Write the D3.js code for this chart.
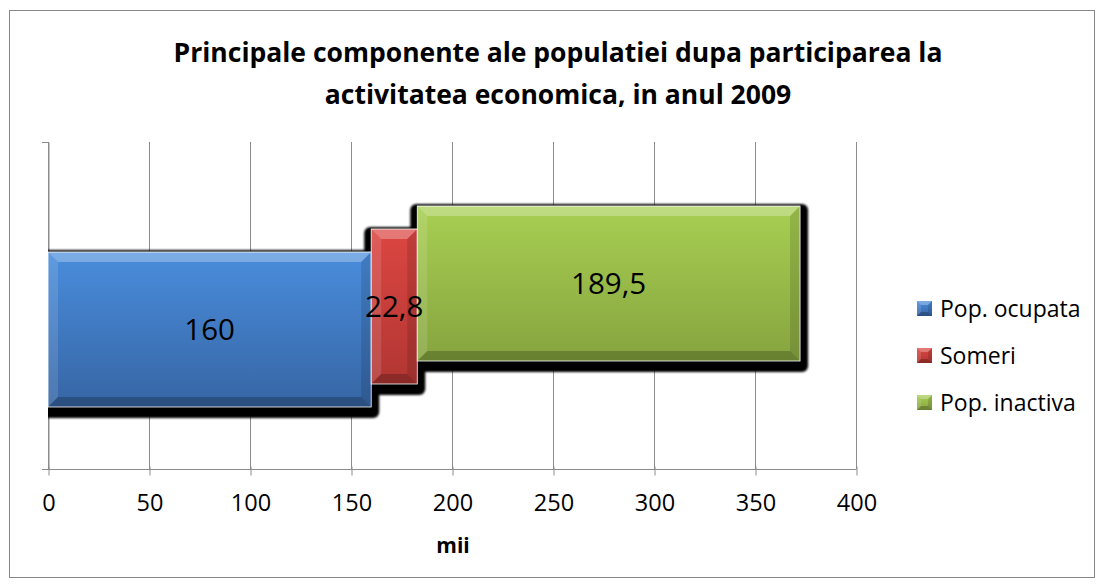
<!DOCTYPE html>
<html>
<head>
<meta charset="utf-8">
<script src="https://cdn.jsdelivr.net/npm/d3@7"></script>
<style>
  body { margin: 0; background: #fff; }
  text { font-family: "Open Sans", sans-serif; fill: #000; }
</style>
</head>
<body>
<div id="chart"></div>
<script>
// data
const categories = ['2009']
const series = ['Pop. ocupata', 'Someri', 'Pop. inactiva']
const values = [160, 22.8, 189.5]
const valueLabels = ['160', '22,8', '189,5']
const xTicks = [0, 50, 100, 150, 200, 250, 300, 350, 400]
const titleLines = ['Principale componente ale populatiei dupa participarea la',
    'activitatea economica, in anul 2009']
const xTitle = 'mii'

const colors = {
    'Pop. ocupata': ['#4a8ddc', '#3665a4'],
    'Someri': ['#dc4642', '#b13633'],
    'Pop. inactiva': ['#a8cf52', '#86a43f']
}

let svgWidth = 1100
let svgHeight = 588
let padding = { left: 48, right: 244, top: 142, bottom: 119 }

let svg = d3.select('#chart').append('svg')
    .attr('width', svgWidth)
    .attr('height', svgHeight)

let defs = svg.append('defs')
series.forEach((s, i) => {
    let g = defs.append('linearGradient')
        .attr('id', 'grad' + i)
        .attr('x1', 0).attr('y1', 0).attr('x2', 0).attr('y2', 1)
    g.append('stop').attr('offset', '0%').attr('stop-color', colors[s][0])
    g.append('stop').attr('offset', '100%').attr('stop-color', colors[s][1])
})
defs.append('filter').attr('id', 'blur')
    .append('feGaussianBlur').attr('stdDeviation', 1)
defs.append('clipPath').attr('id', 'plotclip')
    .append('rect')
    .attr('x', padding.left).attr('y', 0)
    .attr('width', svgWidth - padding.left - padding.right + 20)
    .attr('height', svgHeight)

// outer frame
svg.append('rect')
    .attr('x', 9.5).attr('y', 10.5)
    .attr('width', 1085).attr('height', 567)
    .attr('fill', 'none')
    .attr('stroke', '#868686')

let x = d3.scaleLinear()
    .domain([0, 400])
    .range([padding.left, svgWidth - padding.right])
let y = d3.scaleBand()
    .domain(categories)
    .range([padding.top, svgHeight - padding.bottom])
let offset = d3.scalePoint()
    .domain(series)
    .range([24, -22])
let barH = 155

// gridlines
svg.append('g')
    .selectAll('line')
    .data(xTicks)
    .enter()
    .append('line')
    .attr('x1', d => Math.round(x(d)) + 0.5)
    .attr('x2', d => Math.round(x(d)) + 0.5)
    .attr('y1', padding.top)
    .attr('y2', svgHeight - padding.bottom)
    .attr('stroke', '#8c8c8c')
    .attr('stroke-width', 1)

// y axis ticks (category axis)
let yAxis = d3.axisLeft(y).tickSize(0).tickFormat('')
svg.append('g')
    .attr('transform', `translate(${padding.left + 0.5}, 0)`)
    .call(yAxis)
    .call(g => g.select('.domain').attr('stroke', '#8c8c8c'))
svg.append('g')
    .selectAll('line')
    .data([padding.top, svgHeight - padding.bottom])
    .enter()
    .append('line')
    .attr('x1', padding.left - 6).attr('x2', padding.left)
    .attr('y1', d => d + 0.5).attr('y2', d => d + 0.5)
    .attr('stroke', '#8c8c8c')

// x axis
let axis_x = d3.axisBottom(x)
    .tickValues(xTicks)
    .tickSize(6)
    .tickSizeOuter(0)
    .tickPadding(19)
    .tickFormat(d => d)
let gx = svg.append('g')
    .attr('transform', `translate(0.5, ${svgHeight - padding.bottom + 0.5})`)
    .call(axis_x)
gx.select('.domain').attr('stroke', '#8c8c8c').attr('d', `M${padding.left - 6.5},0H${svgWidth - padding.right}`)
gx.selectAll('.tick line').attr('stroke', '#8c8c8c').attr('y1', -3)
gx.selectAll('.tick text')
    .attr('font-family', '"Open Sans", sans-serif')
    .attr('font-size', 23.5)
    .attr('fill', '#000')

svg.append('text')
    .attr('x', x(200) + 1)
    .attr('y', 553)
    .attr('text-anchor', 'middle')
    .attr('font-weight', 'bold')
    .attr('font-size', 21)
    .text(xTitle)

// stacked segments
let starts = []
values.reduce((acc, v, i) => { starts[i] = acc; return acc + v }, 0)
let bars = series.map((s, i) => {
    let x0 = x(starts[i])
    let x1 = x(starts[i] + values[i])
    let cy = y(categories[0]) + y.bandwidth() / 2 + offset(s)
    return { s: s, i: i, x0: x0, x1: x1, y0: cy - barH / 2, y1: cy + barH / 2, cy: cy }
})

// shadows first, then bars
svg.append('g')
    .attr('clip-path', 'url(#plotclip)')
    .selectAll('rect')
    .data(bars)
    .enter()
    .append('rect')
    .attr('x', d => d.x0 - 7)
    .attr('y', d => d.y0 - 2)
    .attr('width', d => d.x1 - d.x0 + 15)
    .attr('height', barH + 13)
    .attr('rx', 6)
    .attr('fill', '#000')
    .attr('filter', 'url(#blur)')

function bevel(g, x0, y0, x1, y1, b) {
    let pts = [
        [[x0, y0], [x1, y0], [x1 - b, y0 + b], [x0 + b, y0 + b], '#fff', 0.28],
        [[x0, y0], [x0 + b, y0 + b], [x0 + b, y1 - b], [x0, y1], '#fff', 0.12],
        [[x1, y0], [x1, y1], [x1 - b, y1 - b], [x1 - b, y0 + b], '#000', 0.12],
        [[x0, y1], [x0 + b, y1 - b], [x1 - b, y1 - b], [x1, y1], '#000', 0.22]
    ]
    pts.forEach(p => {
        g.append('polygon')
            .attr('points', p.slice(0, 4).map(q => q.join(',')).join(' '))
            .attr('fill', p[4])
            .attr('opacity', p[5])
    })
}

let barG = svg.append('g')
bars.forEach(d => {
    let g = barG.append('g')
    g.append('rect')
        .attr('x', d.x0)
        .attr('y', d.y0)
        .attr('width', d.x1 - d.x0)
        .attr('height', barH)
        .attr('fill', `url(#grad${d.i})`)
    bevel(g, d.x0, d.y0, d.x1, d.y1, 10)
    g.append('rect')
        .attr('x', d.x0)
        .attr('y', d.y0)
        .attr('width', d.x1 - d.x0)
        .attr('height', barH)
        .attr('fill', 'none')
        .attr('stroke', '#fff')
        .attr('stroke-width', 0.8)
})

// value labels
svg.append('g')
    .selectAll('text')
    .data(bars)
    .enter()
    .append('text')
    .attr('x', d => (d.x0 + d.x1) / 2)
    .attr('y', d => d.cy)
    .attr('dy', '0.35em')
    .attr('text-anchor', 'middle')
    .attr('font-size', 29.5)
    .text(d => valueLabels[d.i])

// title
svg.append('g')
    .selectAll('text')
    .data(titleLines)
    .enter()
    .append('text')
    .attr('x', 558)
    .attr('y', (d, i) => 62 + i * 42)
    .attr('text-anchor', 'middle')
    .attr('font-weight', 'bold')
    .attr('font-size', 26.5)
    .text(d => d)

// legend
let legend = svg.append('g')
    .selectAll('g')
    .data(series)
    .enter()
    .append('g')
    .attr('transform', (d, i) => `translate(917, ${301 + i * 47})`)
legend.each(function(d, i) {
    let g = d3.select(this)
    g.append('rect')
        .attr('width', 15).attr('height', 15)
        .attr('fill', `url(#grad${i})`)
    bevel(g, 0, 0, 15, 15, 4)
})
legend.append('text')
    .attr('x', 23)
    .attr('y', 7.5)
    .attr('dy', '0.35em')
    .attr('font-size', 23)
    .text(d => d)
</script>
</body>
</html>
